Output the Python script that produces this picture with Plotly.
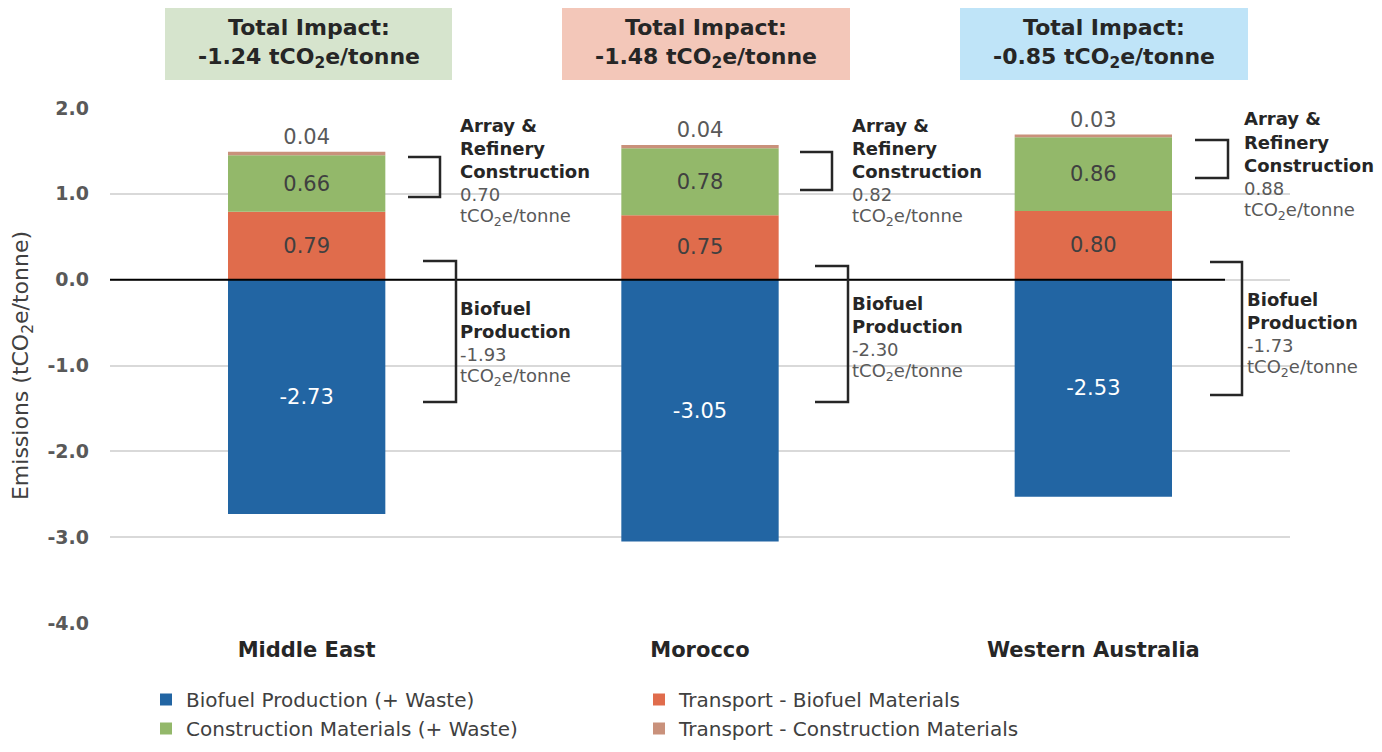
import plotly.graph_objects as go

regions = ["Middle East", "Morocco", "Western Australia"]
biofuel_prod = [-2.73, -3.05, -2.53]
transport_bio = [0.79, 0.75, 0.80]
construction = [0.66, 0.78, 0.86]
transport_con = [0.04, 0.04, 0.03]
total_impact = ["-1.24", "-1.48", "-0.85"]
construction_total = ["0.70", "0.82", "0.88"]
biofuel_total = ["-1.93", "-2.30", "-1.73"]
y_ticks = [-4, -3, -2, -1, 0, 1, 2]

# page has an 8px body margin; work in page pixel coords
OFF = 8
W, H = 1382 - 2 * OFF, 752 - 2 * OFF
L, R, T, B = 110, 1290, 108, 623


def px(x):
    return (x - L) / (R - L)


def py(y):
    return (B - y) / (B - T)


FONT = "DejaVu Sans"
fig = go.Figure()
series = [
    ("Biofuel Production (+ Waste)", biofuel_prod, "#2265a3", "white", "inside"),
    ("Transport - Biofuel Materials", transport_bio, "#e06c4c", "#404040", "inside"),
    ("Construction Materials (+ Waste)", construction, "#93b86a", "#404040", "inside"),
    ("Transport - Construction Materials", transport_con, "#c9917b", "#595959", "outside"),
]
for name, vals, col, tcol, pos in series:
    fig.add_trace(go.Bar(
        x=regions, y=vals, name=name, marker=dict(color=col, line=dict(width=0)),
        text=[f"{v:.2f}" for v in vals], textposition=pos,
        insidetextanchor="middle", constraintext="none", cliponaxis=False,
        textfont=dict(family=FONT, size=21, color=tcol),
        outsidetextfont=dict(family=FONT, size=21, color=tcol),
    ))

shapes = []
ann = []
shapes.append(dict(type="line", xref="paper", yref="y", x0=0, x1=px(1225), y0=0, y1=0,
                   line=dict(color="black", width=2)))

header_boxes = [(165, 452, "#d6e4cd"), (562, 850, "#f3c7b9"), (960, 1248, "#bfe4f8")]
for (x0, x1, c), ti in zip(header_boxes, total_impact):
    shapes.append(dict(type="rect", xref="paper", yref="paper", x0=px(x0), x1=px(x1),
                       y0=py(80), y1=py(8), fillcolor=c, line=dict(width=0), layer="below"))
    ann.append(dict(xref="paper", yref="paper", x=px((x0 + x1) / 2), y=py(44),
                    text=f"<b>Total Impact:<br>{ti} tCO<sub>2</sub>e/tonne</b>",
                    showarrow=False, font=dict(family=FONT, size=22, color="#262626"),
                    xanchor="center", yanchor="middle"))

con_br = [(408, 440, 157, 197), (800, 832, 152, 190), (1195, 1228, 140, 178)]
bio_br = [(423, 456, 261, 402), (815, 848, 266, 402), (1210, 1242, 262, 395)]
con_txt = [(458, 125), (850, 125), (1242, 119)]
bio_txt = [(458, 308), (850, 303), (1245, 299)]

for xa, xv, yt, yb in con_br + bio_br:
    path = f"M {px(xa)} {py(yt)} L {px(xv)} {py(yt)} L {px(xv)} {py(yb)} L {px(xa)} {py(yb)}"
    shapes.append(dict(type="path", xref="paper", yref="paper", path=path,
                       line=dict(color="#262626", width=2.5)))

LH = 23
BS = 18
for (tx, ty), v in zip(con_txt, construction_total):
    lines = [("<b>Array &</b>", "#262626"), ("<b>Refinery</b>", "#262626"),
             ("<b>Construction</b>", "#262626"), (v, "#595959"),
             ("tCO<sub>2</sub>e/tonne", "#595959")]
    for i, (t, c) in enumerate(lines):
        ann.append(dict(xref="paper", yref="paper", x=px(tx), y=py(ty + i * LH), text=t,
                        showarrow=False, xanchor="left", yanchor="middle",
                        font=dict(family=FONT, size=BS, color=c)))
for (tx, ty), v in zip(bio_txt, biofuel_total):
    lines = [("<b>Biofuel</b>", "#262626"), ("<b>Production</b>", "#262626"),
             (v, "#595959"), ("tCO<sub>2</sub>e/tonne", "#595959")]
    for i, (t, c) in enumerate(lines):
        ann.append(dict(xref="paper", yref="paper", x=px(tx), y=py(ty + i * LH), text=t,
                        showarrow=False, xanchor="left", yanchor="middle",
                        font=dict(family=FONT, size=BS, color=c)))

fig.update_layout(
    width=W, height=H, barmode="relative", bargap=0.6,
    margin=dict(l=L - OFF, r=W - (R - OFF), t=T - OFF, b=H - (B - OFF), autoexpand=False),
    paper_bgcolor="white", plot_bgcolor="white",
    font=dict(family=FONT, color="#595959"),
    shapes=shapes, annotations=ann,
    showlegend=True,
    legend=dict(orientation="h", x=px(146), y=py(680), xanchor="left", yanchor="top",
                entrywidth=448, entrywidthmode="pixels", traceorder="normal",
                font=dict(family=FONT, size=20, color="#404040"),
                itemwidth=30, tracegroupgap=0),
)
fig.update_xaxes(showgrid=False, showline=False, ticks="",
                 tickfont=dict(family=FONT, size=21, color="#262626"),
                 tickprefix="<b>", ticksuffix="</b>", ticklabelstandoff=12)
fig.update_yaxes(range=[-4, 2], tickvals=y_ticks,
                 ticktext=[f"<b>{v:.1f}</b>" for v in y_ticks],
                 showgrid=True, gridcolor="#d9d9d9", gridwidth=1.5, zeroline=False,
                 tickfont=dict(family=FONT, size=19, color="#595959"),
                 title=dict(text="Emissions (tCO<sub>2</sub>e/tonne)",
                            font=dict(family=FONT, size=22, color="#404040"), standoff=12),
                 ticklabelstandoff=20)

fig.write_html("out.html")
